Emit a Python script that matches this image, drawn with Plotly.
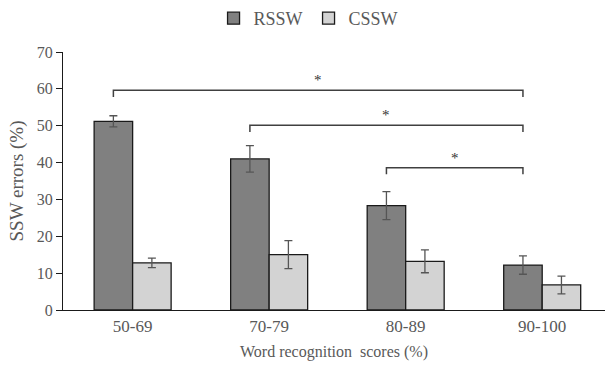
import plotly.graph_objects as go

categories = ["50-69", "70-79", "80-89", "90-100"]
rssw = [51.2, 41.0, 28.3, 12.2]
rssw_err = [1.5, 3.6, 3.8, 2.5]
cssw = [12.8, 15.0, 13.2, 6.8]
cssw_err = [1.3, 3.8, 3.1, 2.4]

# significance brackets: (from category index, to category index, level)
brackets = [(0, 3, 59.6), (1, 3, 50.1), (2, 3, 38.6)]

FONT = "Liberation Serif, Times New Roman, serif"
TXT = "#595959"
bargap = 0.436
bar_w = (1 - bargap) / 2

fig = go.Figure()
fig.add_trace(go.Bar(
    name="RSSW", x=categories, y=rssw,
    marker=dict(color="#808080", line=dict(color="#1a1a1a", width=1.3)),
    error_y=dict(type="data", array=rssw_err, color="#555555", thickness=1.3, width=4),
))
fig.add_trace(go.Bar(
    name="CSSW", x=categories, y=cssw,
    marker=dict(color="#d3d3d3", line=dict(color="#1a1a1a", width=1.3)),
    error_y=dict(type="data", array=cssw_err, color="#555555", thickness=1.3, width=4),
))

for a, b, lvl in brackets:
    x0 = a - bar_w / 2
    x1 = b - bar_w / 2
    drop = 1.8
    fig.add_shape(type="path", xref="x", yref="y",
                  path=f"M {x0} {lvl - drop} L {x0} {lvl} L {x1} {lvl} L {x1} {lvl - drop}",
                  line=dict(color="#404040", width=1.5))
    fig.add_annotation(x=(x0 + x1) / 2, y=lvl, xref="x", yref="y", text="*",
                       showarrow=False, yanchor="bottom",
                       font=dict(family=FONT, size=15, color="#333333"))

fig.update_layout(
    width=605, height=367,
    margin=dict(l=63, r=0, t=52, b=57),
    paper_bgcolor="white", plot_bgcolor="white",
    barmode="group", bargap=bargap, bargroupgap=0,
    font=dict(family=FONT, size=16, color=TXT),
    showlegend=True,
    legend=dict(orientation="h", xref="container", yref="container",
                x=0.51, y=1.0, xanchor="center", yanchor="top",
                font=dict(family=FONT, size=18, color=TXT), itemwidth=30,
                entrywidth=50, entrywidthmode="pixels",
                traceorder="normal"),
    xaxis=dict(range=[-0.51, 3.46], showline=True, linecolor="#1a1a1a", linewidth=1.3,
               ticks="", showgrid=False, zeroline=False,
               tickfont=dict(family=FONT, size=17, color=TXT),
               title=dict(text="Word recognition  scores (%)", standoff=11,
                          font=dict(family=FONT, size=16, color=TXT))),
    yaxis=dict(range=[0, 70], dtick=10, showline=True, linecolor="#1a1a1a", linewidth=1.3,
               ticks="outside", ticklen=6, tickcolor="#1a1a1a", tickwidth=1.3,
               showgrid=False, zeroline=False,
               tickfont=dict(family=FONT, size=16, color=TXT),
               title=dict(text="SSW errors (%)", standoff=8,
                          font=dict(family=FONT, size=19, color=TXT))),
)

fig.write_html("out.html", config={"displayModeBar": False},
               post_script="document.body.style.margin='0';")
